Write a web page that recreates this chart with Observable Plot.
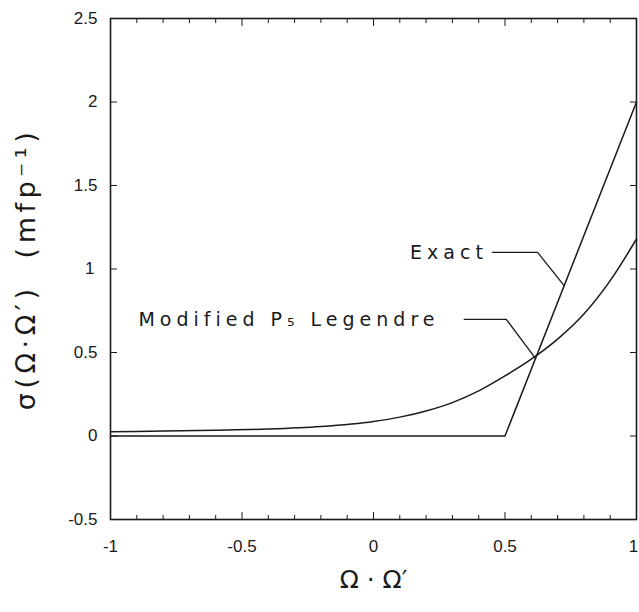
<!DOCTYPE html>
<html>
<head>
<meta charset="utf-8">
<script src="https://cdn.jsdelivr.net/npm/d3@7"></script>
<script src="https://cdn.jsdelivr.net/npm/@observablehq/plot@0.6"></script>
<style>
  html, body { margin: 0; padding: 0; background: #fff; }
</style>
</head>
<body>
<div id="chart"></div>
<script>
// ---- data ----
const xMajorTicks = [-1, -0.5, 0, 0.5, 1];
const xMinorTicks = [-0.9, -0.8, -0.7, -0.6, -0.4, -0.3, -0.2, -0.1, 0.1, 0.2, 0.3, 0.4, 0.6, 0.7, 0.8, 0.9];
const yMajorTicks = [-0.5, 0, 0.5, 1, 1.5, 2, 2.5];

const exactMu = [-1, 0.5, 1];
const exactSigma = [0, 0, 2];

const legendreMu = [-1, -0.8, -0.6, -0.4, -0.2, 0, 0.1, 0.2, 0.3, 0.4, 0.5, 0.6, 0.7, 0.8, 0.9, 1.0];
const legendreSigma = [0.025, 0.03, 0.035, 0.042, 0.057, 0.087, 0.113, 0.15, 0.2, 0.27, 0.36, 0.46, 0.58, 0.73, 0.93, 1.18];

const annotLabels = ["Exact", "Modified P\u2085 Legendre"];
const annotMu = [0.435, -0.894];
const annotSigma = [1.099, 0.698];
const annotAnchor = ["end", "start"];
const leaderExactMu = [0.452, 0.624, 0.725];
const leaderExactSigma = [1.099, 1.099, 0.90];
const leaderLegMu = [0.345, 0.505, 0.616];
const leaderLegSigma = [0.698, 0.698, 0.465];

const xTitle = "\u03A9 \u00B7 \u03A9\u2032";
const yTitle = "\u03C3(\u03A9\u00B7\u03A9\u2032)  (mfp\u207B\u00B9)";

// ---- tables ----
const exact = exactMu.map((m, i) => ({mu: m, s: exactSigma[i]}));
const legendre = legendreMu.map((m, i) => ({mu: m, s: legendreSigma[i]}));
const annots = annotLabels.map((t, i) => ({t, mu: annotMu[i], s: annotSigma[i], a: annotAnchor[i]}));
const leadE = leaderExactMu.map((m, i) => ({mu: m, s: leaderExactSigma[i]}));
const leadL = leaderLegMu.map((m, i) => ({mu: m, s: leaderLegSigma[i]}));

const ink = "#1a1a1a";
const blank = () => "";
const dv = "'DejaVu Sans', 'Noto Sans', sans-serif";

const plot = Plot.plot({
  width: 639,
  height: 612,
  marginLeft: 110,
  marginRight: 3,
  marginTop: 18,
  marginBottom: 93,
  x: {domain: [-1, 1]},
  y: {domain: [-0.5, 2.5]},
  style: {fontFamily: "'Liberation Sans', Arial, sans-serif", background: "#fff", color: ink},
  marks: [
    Plot.frame({stroke: ink, strokeWidth: 1.6}),
    // tick labels
    Plot.axisX({ticks: xMajorTicks, tickSize: 0, tickPadding: 20, tickFormat: d => String(d), label: null, fontSize: 17}),
    Plot.axisY({ticks: yMajorTicks, tickSize: 0, tickPadding: 13, tickFormat: d => String(d), label: null, fontSize: 17}),
    // inward tick marks
    Plot.axisX({anchor: "bottom", ticks: xMajorTicks, tickSize: -7, tickFormat: blank, label: null}),
    Plot.axisX({anchor: "bottom", ticks: xMinorTicks, tickSize: -4, tickFormat: blank, label: null}),
    Plot.axisX({anchor: "top", ticks: xMajorTicks, tickSize: -7, tickFormat: blank, label: null}),
    Plot.axisX({anchor: "top", ticks: xMinorTicks, tickSize: -4, tickFormat: blank, label: null}),
    Plot.axisY({anchor: "left", ticks: yMajorTicks, tickSize: -7, tickFormat: blank, label: null}),
    Plot.axisY({anchor: "right", ticks: yMajorTicks, tickSize: -7, tickFormat: blank, label: null}),
    // curves
    Plot.line(legendre, {x: "mu", y: "s", stroke: ink, strokeWidth: 1.5, curve: "monotone-x"}),
    Plot.line(exact, {x: "mu", y: "s", stroke: ink, strokeWidth: 1.5}),
    // annotations
    Plot.line(leadE, {x: "mu", y: "s", stroke: ink, strokeWidth: 1.3}),
    Plot.line(leadL, {x: "mu", y: "s", stroke: ink, strokeWidth: 1.3}),
    Plot.text(annots.filter(d => d.a === "end"), {x: "mu", y: "s", text: "t", textAnchor: "end", fontSize: 19, fill: ink}),
    Plot.text(annots.filter(d => d.a === "start"), {x: "mu", y: "s", text: "t", textAnchor: "start", fontSize: 19, fill: ink}),
    // axis titles
    Plot.text([xTitle], {frameAnchor: "bottom", textAnchor: "middle", dy: 68, fontSize: 25, fill: ink}),
    Plot.text([yTitle], {frameAnchor: "left", textAnchor: "middle", rotate: -90, dx: -84, fontSize: 27, fill: ink})
  ]
});

const sel = d3.select(plot).selectAll("text");
sel.filter(function () { return annotLabels.includes(this.textContent); })
   .style("font-family", dv).style("letter-spacing", "5px");
sel.filter(function () { return this.textContent === yTitle; })
   .style("font-family", dv).style("letter-spacing", "4.5px");
sel.filter(function () { return this.textContent === xTitle; })
   .style("font-family", dv);
sel.filter(function () { return this.textContent === "1"; })
   .attr("dx", "-3");
document.getElementById("chart").appendChild(plot);
</script>
</body>
</html>
